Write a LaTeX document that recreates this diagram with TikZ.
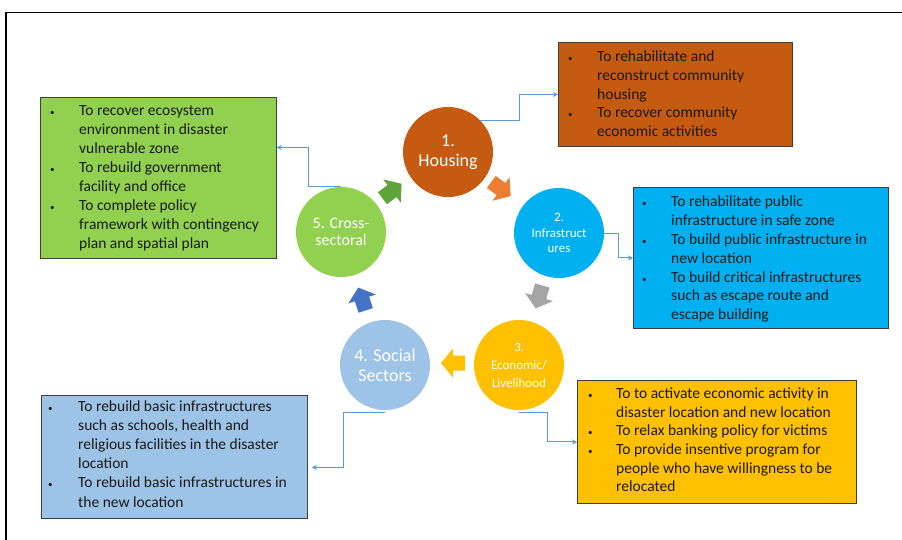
\documentclass[tikz,border=0pt]{standalone}
\usepackage{fontspec}
\setmainfont{Carlito}
\usetikzlibrary{arrows.meta}

\definecolor{cHous}{HTML}{C55A11}
\definecolor{cInfra}{HTML}{00B0F0}
\definecolor{cEco}{HTML}{FFC000}
\definecolor{cSoc}{HTML}{9DC3E6}
\definecolor{cCross}{HTML}{92D050}
\definecolor{aGreen}{HTML}{5FA33B}
\definecolor{aOrange}{HTML}{ED7D31}
\definecolor{aGray}{HTML}{A5A5A5}
\definecolor{aBlue}{HTML}{4472C4}
\definecolor{conn}{HTML}{5B9BD5}
\definecolor{boxline}{HTML}{3F3F3F}
\definecolor{txt}{HTML}{1A1A1A}

\newcommand\mybul{{\fontsize{9}{9}\selectfont\textbullet}}

\begin{document}
\begin{tikzpicture}[x=1pt,y=-1pt,
  stage/.style={circle, minimum size=90pt, inner sep=0pt, text=white, align=center},
  infobox/.style={draw=boxline, line width=0.8pt, anchor=north west, inner sep=0pt},
  infotext/.style={anchor=north west, inner sep=0pt, text=txt},
  link/.style={draw=conn, line width=0.9pt, -{Stealth[length=5pt,width=5pt]}},
  blockarrow/.pic={\path[pic actions] (-12,-7.5) -- (0,-7.5) -- (0,-14.5) -- (12,0) -- (0,14.5) -- (0,7.5) -- (-12,7.5) -- cycle;}
]
\useasboundingbox (0,0) rectangle (902,539);
\fill[white] (0,0) rectangle (902,539);
\draw[line width=1.6pt] (6,545) -- (6,12.5) -- (910,12.5);

% stages
\node[stage, fill=cHous, font=\fontsize{18}{20.5}\selectfont] (hous) at (448,152) {1.\\Housing};
\node[stage, fill=cInfra, font=\fontsize{13}{15.5}\selectfont] (infra) at (559,233) {2.\\Infrastruct\\ures};
\node[stage, fill=cEco, font=\fontsize{13}{18}\selectfont] (eco) at (519,365) {{\fontsize{12.5}{14}\selectfont 3.}\\Economic/\\Livelihood};
\node[stage, fill=cSoc, font=\fontsize{18}{20}\selectfont] (soc) at (385,365) {4. Social\\Sectors};
\node[stage, fill=cCross, font=\fontsize{16}{17.5}\selectfont] (cross) at (341,232) {5. Cross-\\sectoral};

% cycle arrows
\pic[fill=aGreen, rotate=37] at (392,191) {blockarrow};
\pic[fill=aOrange, rotate=-36] at (501,189) {blockarrow};
\pic[fill=aGray, rotate=-106] at (539,297) {blockarrow};
\pic[fill=cEco, rotate=180] at (453,363) {blockarrow};
\pic[fill=aBlue, rotate=108] at (362,299) {blockarrow};

% boxes
\node[infobox, fill=cHous, minimum width=234pt, minimum height=104pt] (bHous) at (558,42) {};
\node[infobox, fill=cCross, minimum width=236pt, minimum height=161pt] (bCross) at (40,97) {};
\node[infobox, fill=cInfra, minimum width=255pt, minimum height=141pt] (bInfra) at (633,187) {};
\node[infobox, fill=cSoc, minimum width=266pt, minimum height=123pt] (bSoc) at (41,395) {};
\node[infobox, fill=cEco, minimum width=279pt, minimum height=123pt] (bEco) at (577,380) {};

% box texts
\node[infotext, font=\fontsize{15.5}{18.7}\selectfont] (tHous) at (568,48.5) {\begin{tabular}{@{}p{29pt}@{}l@{}}
\mybul & To rehabilitate and\\
 & reconstruct community\\
 & housing\\
\mybul & To recover community\\
 & economic activities
\end{tabular}};
\node[infotext, font=\fontsize{15.5}{18.9}\selectfont] (tCross) at (50,102.5) {\begin{tabular}{@{}p{29pt}@{}l@{}}
\mybul & To recover ecosystem\\
 & environment in disaster\\
 & vulnerable zone\\
\mybul & To rebuild government\\
 & facility and office\\
\mybul & To complete policy\\
 & framework with contingency\\
 & plan and spatial plan
\end{tabular}};
\node[infotext, font=\fontsize{15.5}{18.8}\selectfont] (tInfra) at (642,193.5) {\begin{tabular}{@{}p{29pt}@{}l@{}}
\mybul & To rehabilitate public\\
 & infrastructure in safe zone\\
\mybul & To build public infrastructure in\\
 & new location\\
\mybul & To build critical infrastructures\\
 & such as escape route and\\
 & escape building
\end{tabular}};
\node[infotext, font=\fontsize{15.5}{18.6}\selectfont] (tEco) at (588,385.5) {\begin{tabular}{@{}p{28pt}@{}l@{}}
\mybul & To to activate economic activity in\\
 & disaster location and new location\\
\mybul & To relax banking policy for victims\\
\mybul & To provide insentive program for\\
 & people who have willingness to be\\
 & relocated
\end{tabular}};
\node[infotext, font=\fontsize{15.5}{19.2}\selectfont] (tSoc) at (48,397.5) {\begin{tabular}{@{}p{30pt}@{}l@{}}
\mybul & To rebuild basic infrastructures\\
 & such as schools, health and\\
 & religious facilities in the disaster\\
 & location\\
\mybul & To rebuild basic infrastructures in\\
 & the new location
\end{tabular}};

% connectors
\draw[link] (hous.north east) -- ++(39,0) |- (bHous.west);
\draw[link] (infra.east) -- ++(14,0) |- (bInfra.west);
\draw[link] ([yshift=-2pt]eco.south) -- ++(28,0) |- (bEco.west);
\draw[link] (cross.north) -- ++(-33,0) |- ([yshift=30.5pt]bCross.east);
\draw[link] ([yshift=-2pt]soc.south) -- ++(-42,0) |- ([xshift=4pt,yshift=-10.5pt]bSoc.east);
\end{tikzpicture}
\end{document}
